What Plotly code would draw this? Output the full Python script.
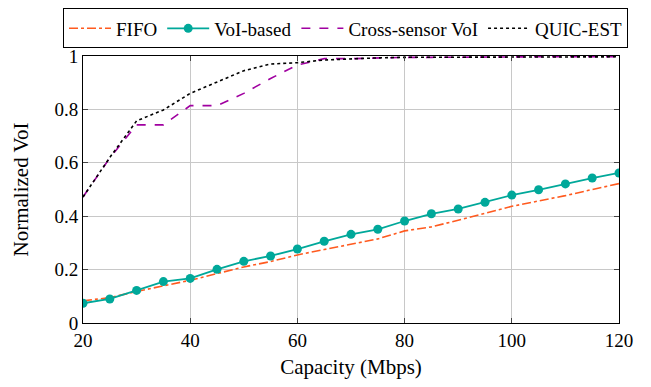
import plotly.graph_objects as go

capacity = [20, 25, 30, 35, 40, 45, 50, 55, 60, 65, 70, 75, 80, 85, 90, 95, 100, 105, 110, 115, 120]

fifo = [0.083, 0.095, 0.118, 0.140, 0.160, 0.185, 0.210, 0.230, 0.255, 0.275, 0.295, 0.315,
        0.345, 0.360, 0.385, 0.410, 0.437, 0.457, 0.477, 0.500, 0.522]
voi_based = [0.074, 0.090, 0.122, 0.155, 0.167, 0.201, 0.231, 0.251, 0.277, 0.306, 0.332, 0.351,
             0.382, 0.409, 0.427, 0.452, 0.479, 0.499, 0.521, 0.543, 0.562]
cross_sensor = [0.472, 0.618, 0.742, 0.742, 0.814, 0.814, 0.860, 0.916, 0.966, 0.990, 0.990, 0.993,
                0.995, 0.995, 0.996, 0.996, 0.997, 0.997, 0.997, 0.997, 0.997]
quic_est = [0.472, 0.620, 0.757, 0.798, 0.860, 0.904, 0.945, 0.970, 0.975, 0.985, 0.990, 0.993,
            0.995, 0.995, 0.996, 0.996, 0.997, 0.997, 0.997, 0.997, 0.997]

x_ticks = [20, 40, 60, 80, 100, 120]
y_ticks = [0, 0.2, 0.4, 0.6, 0.8, 1]
y_tick_labels = ["0", "0.2", "0.4", "0.6", "0.8", "1"]

font_family = "Liberation Serif"

fig = go.Figure()
fig.add_trace(go.Scatter(x=capacity, y=fifo, name="FIFO", mode="lines",
                         line=dict(color="#ff5a1f", width=1.6, dash="dashdot")))
fig.add_trace(go.Scatter(x=capacity, y=voi_based, name="VoI-based", mode="lines+markers",
                         line=dict(color="#00a89a", width=1.8),
                         marker=dict(color="#00a89a", size=9)))
fig.add_trace(go.Scatter(x=capacity, y=cross_sensor, name="Cross-sensor VoI", mode="lines",
                         line=dict(color="#a000a0", width=1.6, dash="dash")))
fig.add_trace(go.Scatter(x=capacity, y=quic_est, name="QUIC-EST", mode="lines",
                         line=dict(color="black", width=1.6, dash="dot")))

axis_common = dict(showline=True, linecolor="black", linewidth=1, mirror="ticks",
                   ticks="inside", ticklen=5, tickcolor="#444",
                   showgrid=True, gridcolor="#c8c8c8", gridwidth=1,
                   zeroline=False, automargin=False,
                   tickfont=dict(family=font_family, size=19, color="black"))

# page body has an 8px default margin; figure is sized to compensate
fig.update_layout(
    width=643, height=379,
    margin=dict(l=75, r=32, t=48, b=64, autoexpand=False),
    paper_bgcolor="white", plot_bgcolor="white",
    font=dict(family=font_family, size=19, color="black"),
    xaxis=dict(range=[20, 120], tickvals=x_ticks,
               title=dict(text="Capacity (Mbps)", font=dict(family=font_family, size=21), standoff=9),
               **axis_common),
    yaxis=dict(range=[0, 1], tickvals=y_ticks, ticktext=y_tick_labels,
               title=dict(text="Normalized VoI", font=dict(family=font_family, size=21), standoff=20),
               **axis_common),
    legend=dict(orientation="h", xref="paper", yref="paper",
                x=-0.0373, xanchor="left",
                y=1.178, yanchor="top",
                bordercolor="black", borderwidth=1, bgcolor="white",
                font=dict(family=font_family, size=19), itemwidth=42,
                tracegroupgap=0),
    showlegend=True,
)

fig.write_html("out.html")
